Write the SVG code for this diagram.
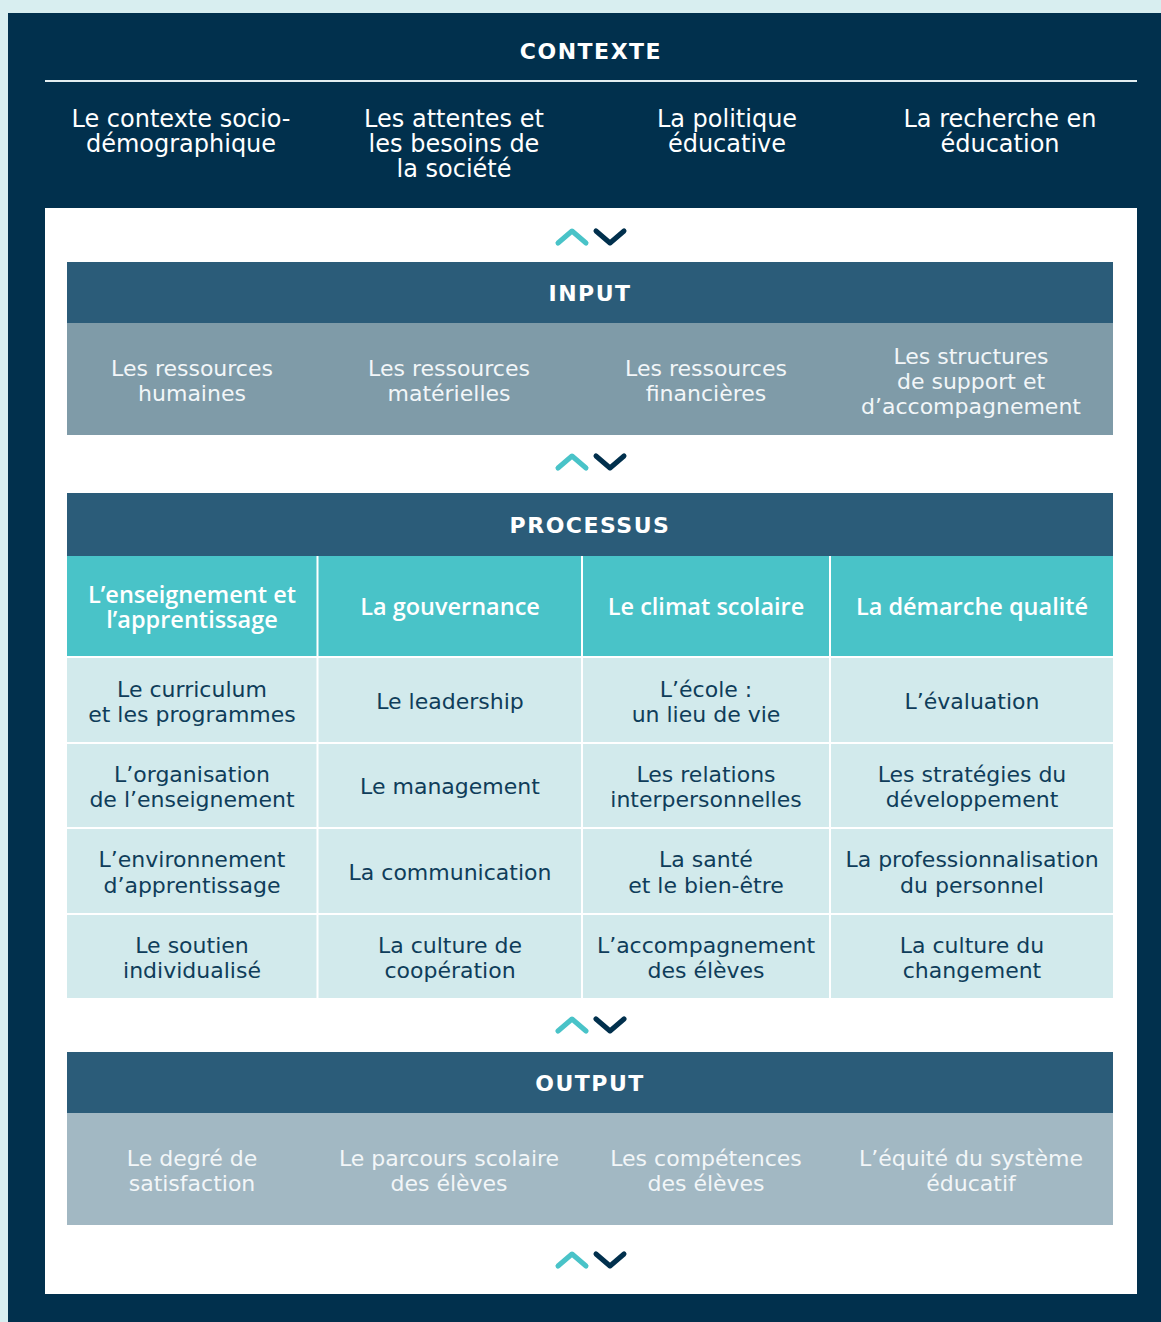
<svg xmlns="http://www.w3.org/2000/svg" width="1161" height="1322" viewBox="0 0 1161 1322">
<style>
text{font-family:"DejaVu Sans","Open Sans",sans-serif;text-anchor:middle}
.t{font-size:22px;font-weight:700;fill:#ffffff;letter-spacing:1.5px}
.w{font-size:24px;fill:#ffffff}
.wi{font-size:22px;fill:#f2f6f8}
.h{font-family:"Open Sans","DejaVu Sans",sans-serif;font-size:23.5px;fill:#ffffff;font-weight:600}
.d{font-size:22px;fill:#0f3d5a}
.up{fill:none;stroke:#49c3c8;stroke-width:5;stroke-linecap:round;stroke-linejoin:round}
.dn{fill:none;stroke:#01304d;stroke-width:5;stroke-linecap:round;stroke-linejoin:round}
.hd{fill:#2b5c79}
.cell{fill:#d2eaec}
.sep{stroke:#ffffff;stroke-width:2}
</style>
<defs>
<g id="chev">
<polyline class="up" points="558,243 572,231 586,243"/>
<polyline class="dn" points="596,231 610,243 624,231"/>
</g>
</defs>
<rect x="0" y="0" width="1161" height="1322" fill="#d8eef0"/>
<rect x="8" y="13" width="1153" height="1309" fill="#01304d"/>
<rect x="45" y="208" width="1092" height="1086" fill="#ffffff"/>

<g id="contexte">
<text class="t" x="591" y="59">CONTEXTE</text>
<line x1="45" y1="81" x2="1137" y2="81" stroke="#e3eef1" stroke-width="2"/>
<text class="w" x="181" y="127">Le contexte socio-</text>
<text class="w" x="181" y="152">démographique</text>
<text class="w" x="454" y="127">Les attentes et</text>
<text class="w" x="454" y="152">les besoins de</text>
<text class="w" x="454" y="177">la société</text>
<text class="w" x="727" y="127">La politique</text>
<text class="w" x="727" y="152">éducative</text>
<text class="w" x="1000" y="127">La recherche en</text>
<text class="w" x="1000" y="152">éducation</text>
</g>

<g id="connectors">
<use href="#chev"/>
<use href="#chev" y="225"/>
<use href="#chev" y="788"/>
<use href="#chev" y="1023"/>
</g>

<g id="input">
<rect class="hd" x="67" y="262" width="1046" height="61"/>
<rect x="67" y="323" width="1046" height="112" fill="#7f9ba8"/>
<text class="t" x="590" y="301">INPUT</text>
<text class="wi" x="192" y="376">Les ressources</text>
<text class="wi" x="192" y="401">humaines</text>
<text class="wi" x="449" y="376">Les ressources</text>
<text class="wi" x="449" y="401">matérielles</text>
<text class="wi" x="706" y="376">Les ressources</text>
<text class="wi" x="706" y="401">financières</text>
<text class="wi" x="971" y="364">Les structures</text>
<text class="wi" x="971" y="389">de support et</text>
<text class="wi" x="971" y="414">d’accompagnement</text>
</g>

<g id="processus">
<rect class="hd" x="67" y="493" width="1046" height="63"/>
<text class="t" x="590" y="533">PROCESSUS</text>
<rect x="67" y="556" width="1046" height="101" fill="#49c3c8"/>
<rect class="cell" x="67" y="657" width="1046" height="341"/>
<line class="sep" x1="67" y1="657" x2="1113" y2="657"/>
<line class="sep" x1="67" y1="743" x2="1113" y2="743"/>
<line class="sep" x1="67" y1="828" x2="1113" y2="828"/>
<line class="sep" x1="67" y1="914" x2="1113" y2="914"/>
<line class="sep" x1="317.5" y1="556" x2="317.5" y2="998"/>
<line class="sep" x1="582" y1="556" x2="582" y2="998"/>
<line class="sep" x1="830" y1="556" x2="830" y2="998"/>

<text class="h" x="192" y="603">L’enseignement et</text>
<text class="h" x="192" y="628">l’apprentissage</text>
<text class="h" x="450" y="615">La gouvernance</text>
<text class="h" x="706" y="615">Le climat scolaire</text>
<text class="h" x="972" y="615">La démarche qualité</text>

<text class="d" x="192" y="697">Le curriculum</text>
<text class="d" x="192" y="722">et les programmes</text>
<text class="d" x="450" y="709">Le leadership</text>
<text class="d" x="706" y="697">L’école :</text>
<text class="d" x="706" y="722">un lieu de vie</text>
<text class="d" x="972" y="709">L’évaluation</text>

<text class="d" x="192" y="782">L’organisation</text>
<text class="d" x="192" y="807">de l’enseignement</text>
<text class="d" x="450" y="794">Le management</text>
<text class="d" x="706" y="782">Les relations</text>
<text class="d" x="706" y="807">interpersonnelles</text>
<text class="d" x="972" y="782">Les stratégies du</text>
<text class="d" x="972" y="807">développement</text>

<text class="d" x="192" y="867">L’environnement</text>
<text class="d" x="192" y="893">d’apprentissage</text>
<text class="d" x="450" y="880">La communication</text>
<text class="d" x="706" y="867">La santé</text>
<text class="d" x="706" y="893">et le bien-être</text>
<text class="d" x="972" y="867">La professionnalisation</text>
<text class="d" x="972" y="893">du personnel</text>

<text class="d" x="192" y="953">Le soutien</text>
<text class="d" x="192" y="978">individualisé</text>
<text class="d" x="450" y="953">La culture de</text>
<text class="d" x="450" y="978">coopération</text>
<text class="d" x="706" y="953">L’accompagnement</text>
<text class="d" x="706" y="978">des élèves</text>
<text class="d" x="972" y="953">La culture du</text>
<text class="d" x="972" y="978">changement</text>
</g>

<g id="output">
<rect class="hd" x="67" y="1052" width="1046" height="61"/>
<rect x="67" y="1113" width="1046" height="112" fill="#a2b8c3"/>
<text class="t" x="590" y="1091">OUTPUT</text>
<text class="wi" x="192" y="1166">Le degré de</text>
<text class="wi" x="192" y="1191">satisfaction</text>
<text class="wi" x="449" y="1166">Le parcours scolaire</text>
<text class="wi" x="449" y="1191">des élèves</text>
<text class="wi" x="706" y="1166">Les compétences</text>
<text class="wi" x="706" y="1191">des élèves</text>
<text class="wi" x="971" y="1166">L’équité du système</text>
<text class="wi" x="971" y="1191">éducatif</text>
</g>
</svg>
